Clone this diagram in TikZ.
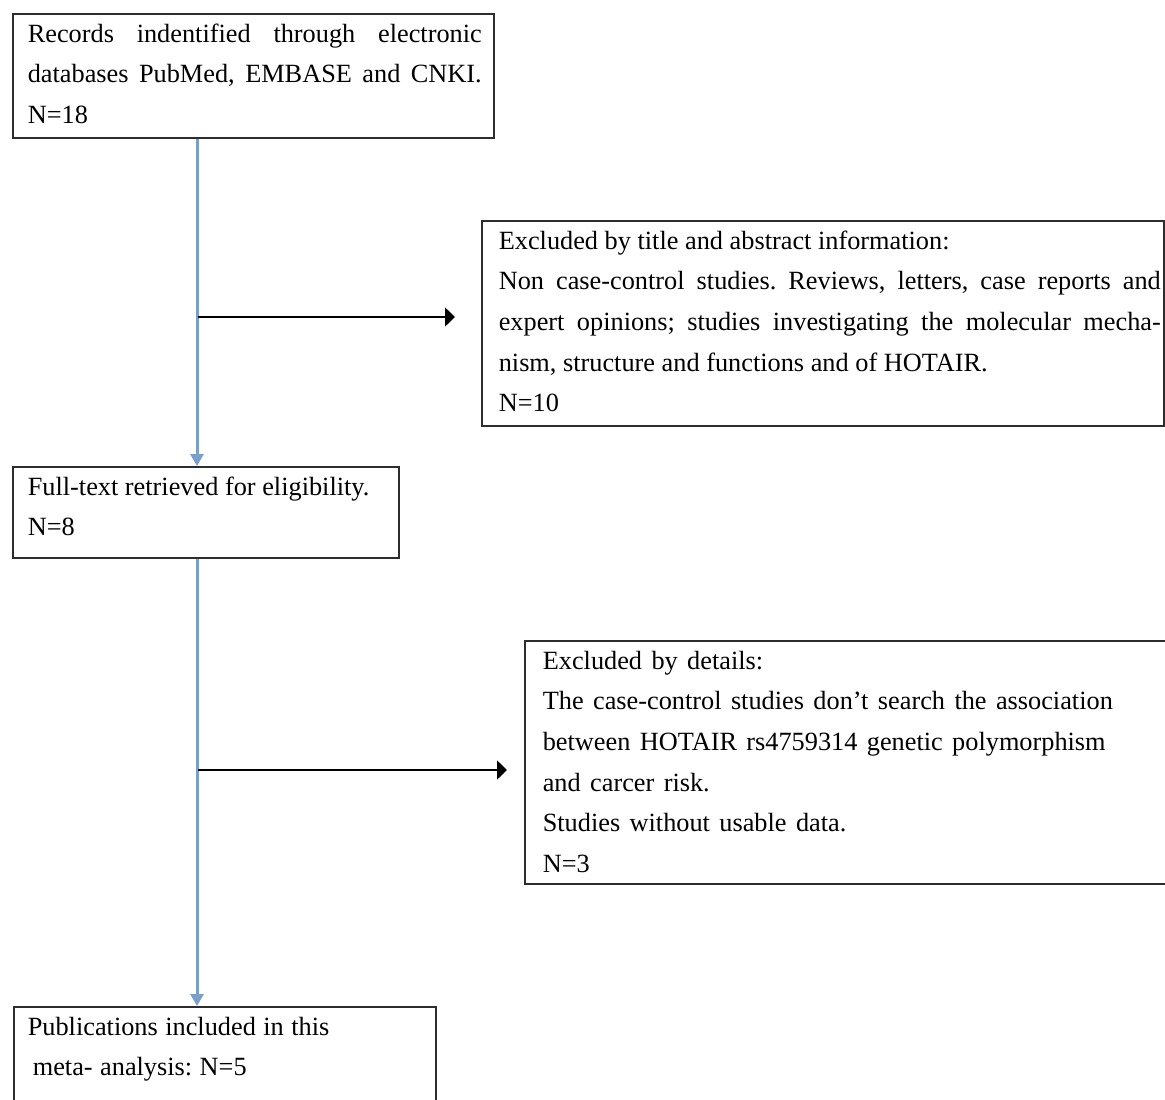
\documentclass[tikz,border=0pt]{standalone}
\usepackage{fontspec}
\setmainfont{Liberation Serif}
\usetikzlibrary{arrows.meta}
\definecolor{flowblue}{RGB}{122,160,202}
\definecolor{boxline}{RGB}{45,45,45}
\newcommand\boxtxt[6]{\parbox[t][#2][t]{#1}{\fontsize{26.3pt}{40.6pt}\selectfont\frenchspacing\spaceskip=#5 plus 8pt minus 2pt\setlength\leftskip{#3}\setlength\rightskip{#4}\strut #6}}
\tikzset{
  fbox/.style={draw=boxline, line width=1.6pt, anchor=north west, inner sep=0pt, fill=white},
  flow/.style={draw=flowblue, line width=3pt, -{Triangle[length=12pt,width=13pt]}},
  excl/.style={draw=black, line width=1.6pt, -{Triangle[length=10pt,width=19pt]}}
}
\begin{document}
\begin{tikzpicture}[x=1pt,y=-1pt]
\useasboundingbox (0,0) rectangle (1165,1100);
\clip (0,0) rectangle (1165,1100);
\fill[white] (0,0) rectangle (1165,1100);
\node[fbox] (b1) at (12,13) {\boxtxt{481pt}{124pt}{15pt}{12pt}{10.6pt}{Records indentified through electronic\linebreak databases PubMed, EMBASE and CNKI.\\ N=18}};
\node[fbox] (b2) at (481,220) {\boxtxt{682pt}{205pt}{17pt}{3pt}{6.6pt}{Excluded by title and abstract information:\\ Non case-control studies. Reviews, letters, case reports and\linebreak expert opinions; studies investigating the molecular mecha-\linebreak nism, structure and functions and of HOTAIR.\\ N=10}};
\node[fbox] (b3) at (12,466) {\boxtxt{386pt}{91pt}{15pt}{5pt}{6.6pt}{Full-text retrieved for eligibility.\\ N=8}};
\node[fbox] (b4) at (524,640) {\boxtxt{660pt}{243pt}{18pt}{12pt}{9.4pt}{Excluded by details:\\ The case-control studies don’t search the association\\ between HOTAIR rs4759314 genetic polymorphism\\ and carcer risk.\\ Studies without usable data.\\ N=3}};
\node[fbox] (b5) at (13,1006) {\boxtxt{422pt}{120pt}{14pt}{5pt}{7.5pt}{Publications included in this\\ \hspace*{5pt}meta- analysis: N=5}};
\coordinate (x1) at (197,0);
\draw[flow] (b1.south -| x1) -- (b3.north -| x1);
\draw[flow] (b3.south -| x1) -- (b5.north -| x1);
\coordinate (j1) at (198,317);
\coordinate (j2) at (198,770);
\draw[excl] (j1) -- ([xshift=-26pt]b2.west |- j1);
\draw[excl] (j2) -- ([xshift=-17pt]b4.west |- j2);
\end{tikzpicture}
\end{document}
